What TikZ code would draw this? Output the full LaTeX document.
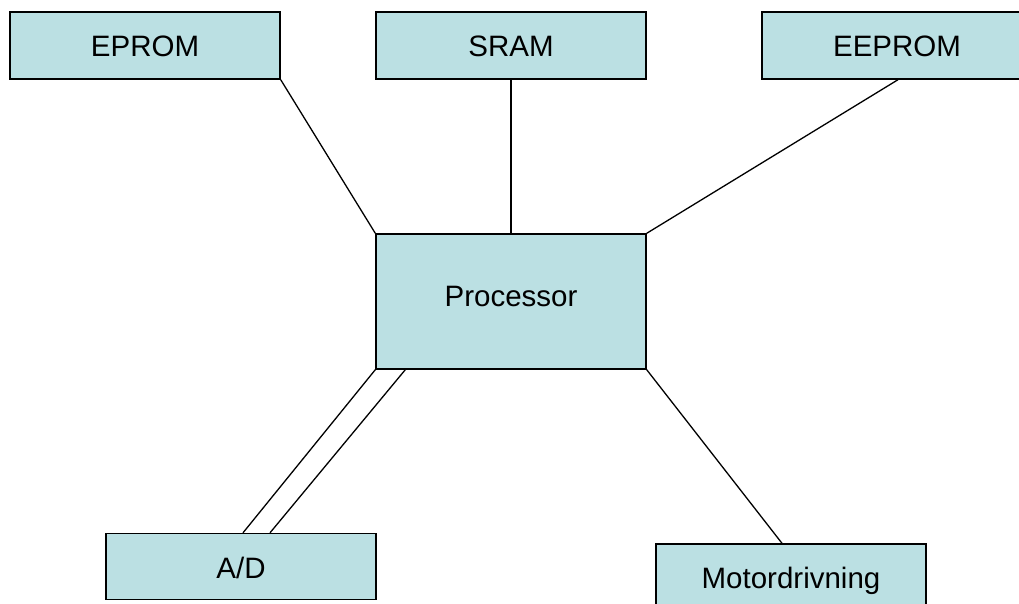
\documentclass[tikz,border=0pt]{standalone}
\usepackage{fontspec}
\setmainfont{Liberation Sans}
\definecolor{boxfill}{RGB}{187,224,227}
\begin{document}
\begin{tikzpicture}[x=1pt,y=-1pt,
  blk/.style={draw=black,line width=1.4pt,fill=boxfill,rectangle,inner sep=0pt,
    text height=21pt,text depth=0pt,
    font=\fontsize{29.5}{34}\selectfont},
  conn/.style={line width=1.3pt,draw=black}]
\useasboundingbox (0,0) rectangle (1019,603);
\fill[white] (0,0) rectangle (1019,603);
\node[blk,minimum width=270pt,minimum height=67pt] (eprom) at (145,45.5) {EPROM};
\node[blk,minimum width=270pt,minimum height=67pt] (sram) at (511,45.5) {SRAM};
\node[blk,minimum width=270pt,minimum height=67pt] (eeprom) at (897,45.5) {EEPROM};
\node[blk,minimum width=270pt,minimum height=135pt] (proc) at (511,301.5) {\raisebox{5.5pt}{Processor}};
\node[blk,minimum width=270pt,minimum height=66pt] (ad) at (241,566.5) {\raisebox{-1.5pt}{A/D}};
\node[blk,minimum width=270pt,minimum height=67pt] (motor) at (791,577.5) {Motordrivning};
\draw[conn] (eprom.south east) -- (proc.north west);
\draw[conn] (sram.south) -- (proc.north);
\draw[conn] ([xshift=1pt]eeprom.south) -- (proc.north east);
\draw[conn] (proc.south east) -- ([xshift=-9pt]motor.north);
\draw[conn] (proc.south west) -- ([xshift=2pt]ad.north);
\draw[conn] ([xshift=30pt]proc.south west) -- ([xshift=29pt]ad.north);
\end{tikzpicture}
\end{document}
